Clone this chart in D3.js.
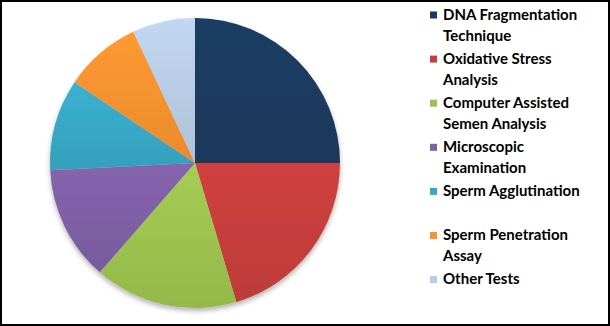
<!DOCTYPE html>
<html>
<head>
<meta charset="utf-8">
<script src="https://cdn.jsdelivr.net/npm/d3@7"></script>
<style>
    body { margin: 0; background: #fff; }
    svg { display: block; }
</style>
</head>
<body>
<div class="pie-chart-container"></div>
<script>
// Data
const categories = ['DNA Fragmentation Technique', 'Oxidative Stress Analysis', 'Computer Assisted Semen Analysis',
    'Microscopic Examination', 'Sperm Agglutination', 'Sperm Penetration Assay', 'Other Tests'];
// legend lines (wrapped like the original)
const legendLines = [['DNA Fragmentation', 'Technique'], ['Oxidative Stress', 'Analysis'], ['Computer Assisted', 'Semen Analysis'],
    ['Microscopic', 'Examination'], ['Sperm Agglutination'], ['Sperm Penetration', 'Assay'], ['Other Tests']];
const shares = [25, 20.4, 16, 12.8, 10.2, 8.6, 7.0];
const colors = ['#1B3A5F', '#C63E3C', '#9DC24F', '#7F5FA6', '#38A8C6', '#F7922F', '#B8CCE4'];

const data = categories.map((c, i) => ({ name: c, lines: legendLines[i], value: shares[i], color: colors[i] }));

// canvas
const svg_width = 610;
const svg_height = 326;
const svg = d3.select('.pie-chart-container').append('svg')
    .attr('width', svg_width).attr('height', svg_height);

// frame
svg.append('rect').attr('x', 1).attr('y', 1)
    .attr('width', svg_width - 2).attr('height', svg_height - 2)
    .style('fill', '#fff').style('stroke', '#000').style('stroke-width', 2);

// shadow + gradient defs
const defs = svg.append('defs');
const shadow = defs.append('filter').attr('id', 'shadow')
    .attr('x', '-10%').attr('y', '-10%').attr('width', '120%').attr('height', '125%');
shadow.append('feDropShadow').attr('dx', 0).attr('dy', 3).attr('stdDeviation', 2.5)
    .attr('flood-color', '#000').attr('flood-opacity', 0.3);

data.forEach((d, i) => {
    const g = defs.append('linearGradient').attr('id', `grad${i}`)
        .attr('x1', 0).attr('y1', 0).attr('x2', 0).attr('y2', 1);
    g.append('stop').attr('offset', '0%').attr('stop-color', d3.color(d.color).brighter(0.15));
    g.append('stop').attr('offset', '100%').attr('stop-color', d3.color(d.color).darker(0.15));
});

// pie
const cx = 195, cy = 163, radius = 145;
const pie = d3.pie().sort(null).value(d => d.value);
const arcGen = d3.arc().innerRadius(0).outerRadius(radius);

const pieGroup = svg.append('g').attr('class', 'pie')
    .attr('transform', `translate(${cx},${cy})`)
    .style('filter', 'url(#shadow)');

pieGroup.selectAll('.slice').data(pie(data)).enter()
    .append('path')
    .attr('class', 'slice')
    .attr('d', arcGen)
    .style('fill', (d, i) => `url(#grad${i})`);

// legend
const legend = svg.append('g').attr('class', 'legend')
    .attr('transform', 'translate(430,0)');

const item = legend.selectAll('.legend-item').data(data).enter()
    .append('g').attr('class', 'legend-item')
    .attr('transform', (d, i) => `translate(0,${19.5 + i * 44.1})`);

item.append('rect')
    .attr('x', 0).attr('y', -8).attr('width', 7).attr('height', 7)
    .style('fill', d => d.color);

item.append('text')
    .style('font-family', 'Lato, "Liberation Sans", sans-serif')
    .style('font-weight', 'bold')
    .style('font-size', '15px')
    .style('fill', '#000')
    .selectAll('tspan').data(d => d.lines).enter()
    .append('tspan')
    .attr('x', 13).attr('y', (d, j) => j * 21)
    .text(d => d);
</script>
</body>
</html>
